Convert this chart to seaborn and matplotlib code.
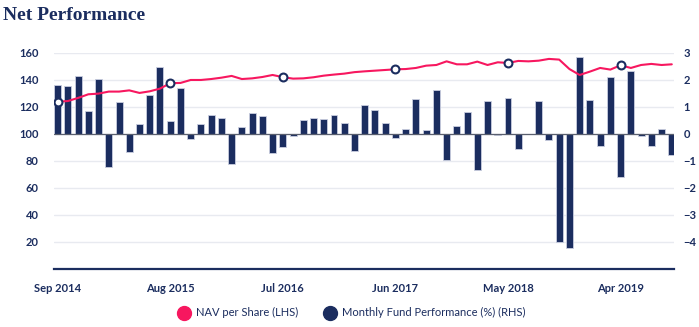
import numpy as np
import pandas as pd
import matplotlib
matplotlib.use("Agg")
import matplotlib.pyplot as plt
from matplotlib.lines import Line2D
import seaborn as sns

# Monthly series, Sep 2014 .. Sep 2019
months = pd.date_range("2014-09-01", periods=61, freq="MS").strftime("%b %Y").tolist()

perf = [1.81, 1.79, 2.14, 0.84, 2.04, -1.21, 1.17, -0.68, 0.36, 1.46,
        2.49, 0.47, 1.69, -0.19, 0.36, 0.72, 0.58, -1.11, 0.26, 0.79,
        0.67, -0.69, -0.47, -0.09, 0.52, 0.60, 0.56, 0.70, 0.40, -0.62,
        1.09, 0.88, 0.41, -0.14, 0.20, 1.28, 0.16, 1.63, -0.98, 0.31,
        0.81, -1.33, 1.21, -0.02, 1.32, -0.54, 0.0, 1.23, -0.22, -3.99,
        -4.23, 2.84, 1.25, -0.46, 2.10, -1.60, 2.32, -0.09, -0.44, 0.17,
        -0.78]

nav = [123.9, 124.4, 126.7, 129.4, 129.9, 131.4, 131.4, 132.3, 130.4, 131.6,
       133.6, 137.6, 137.8, 140.0, 140.0, 140.7, 141.7, 143.0, 140.7, 141.2,
       142.2, 143.7, 142.1, 141.0, 141.2, 142.0, 143.2, 144.0, 144.7, 145.8,
       146.4, 146.9, 147.4, 147.9, 148.1, 148.9, 150.6, 151.1, 153.8, 151.6,
       151.6, 153.6, 151.1, 153.1, 152.6, 154.1, 153.8, 154.3, 155.6, 155.1,
       148.1, 143.7, 146.2, 148.9, 147.7, 150.9, 148.9, 151.1, 151.9, 151.1,
       151.6]

tick_idx = [0, 11, 22, 33, 44, 55]
left_ticks = [20, 40, 60, 80, 100, 120, 140, 160]
right_ticks = [-4, -3, -2, -1, 0, 1, 2, 3]

NAVY = "#1b2d5f"
PINK = "#f7175f"
GRID = "#e8eaf0"

sns.set_style("white")
plt.rcParams["font.family"] = ["Lato", "DejaVu Sans"]

df = pd.DataFrame({"month": months, "idx": np.arange(len(months)),
                   "perf": perf, "nav": nav})

fig = plt.figure(figsize=(6.99, 3.27), dpi=100)
ax = fig.add_axes([0.0773, 0.1774, 0.8867, 0.6606])
ax2 = ax.twinx()

# Bars: monthly fund performance (right-hand scale)
sns.barplot(data=df, x="month", y="perf", order=months, color=NAVY,
            saturation=1, width=0.68, edgecolor="#c9cee0", linewidth=0.6, ax=ax)
ax.axhline(0, color="#5a5f6e", linewidth=0.9, zorder=1)
ax.set_ylim(-5, 3)
ax.set_yticks(right_ticks)
ax.set_yticklabels([("\u2212%d" % -t) if t < 0 else str(t) for t in right_ticks])
ax.yaxis.tick_right()
ax.grid(axis="y", color=GRID, linewidth=1.0)
ax.set_axisbelow(True)

# Line: NAV per share (left-hand scale)
sns.lineplot(data=df, x="idx", y="nav", color=PINK, linewidth=1.5, ax=ax2, zorder=3)
sub = df[df["idx"].isin(tick_idx)]
sns.scatterplot(data=sub, x="idx", y="nav", s=32, color="white",
                edgecolor=NAVY, linewidth=1.5, ax=ax2, zorder=4)
ax2.set_ylim(0, 160)
ax2.set_yticks(left_ticks)
ax2.yaxis.tick_left()

ax.set_xlim(-0.35, 60.2)
ax2.set_xlim(-0.35, 60.2)
ax.set_xticks(tick_idx)
ax.set_xticklabels([months[i] for i in tick_idx])

for a in (ax, ax2):
    a.set_xlabel("")
    a.set_ylabel("")
    for s in ("top", "left", "right", "bottom"):
        a.spines[s].set_visible(False)

ax.spines["bottom"].set_visible(True)
ax.spines["bottom"].set_color(NAVY)
ax.spines["bottom"].set_linewidth(1.6)

ax.tick_params(axis="x", length=7, width=1.2, color=NAVY, pad=3,
               labelsize=8, labelcolor=NAVY)
ax.tick_params(axis="y", length=0, pad=7, labelsize=8, labelcolor=NAVY)
ax2.tick_params(axis="y", length=0, pad=11, labelsize=8, labelcolor=NAVY)
ax2.tick_params(axis="x", length=0, labelbottom=False)
for lab in ax.get_xticklabels() + ax.get_yticklabels() + ax2.get_yticklabels():
    lab.set_fontweight("bold")

fig.text(0.005, 0.94, "Net Performance", family=["Liberation Serif", "DejaVu Serif"],
         fontweight="bold", fontsize=14, color=NAVY, va="baseline")

handles = [
    Line2D([], [], linestyle="none", marker="o", markersize=10,
           markerfacecolor=PINK, markeredgecolor=PINK),
    Line2D([], [], linestyle="none", marker="o", markersize=10,
           markerfacecolor=NAVY, markeredgecolor=NAVY),
]
leg = fig.legend(handles, ["NAV per Share (LHS)", "Monthly Fund Performance (%) (RHS)"],
                 loc="center", bbox_to_anchor=(0.503, 0.043), ncol=2, frameon=False,
                 fontsize=8, handletextpad=0.5, columnspacing=2.2, handlelength=1.2)
for t in leg.get_texts():
    t.set_color(NAVY)

fig.savefig("out.png", dpi=100)
